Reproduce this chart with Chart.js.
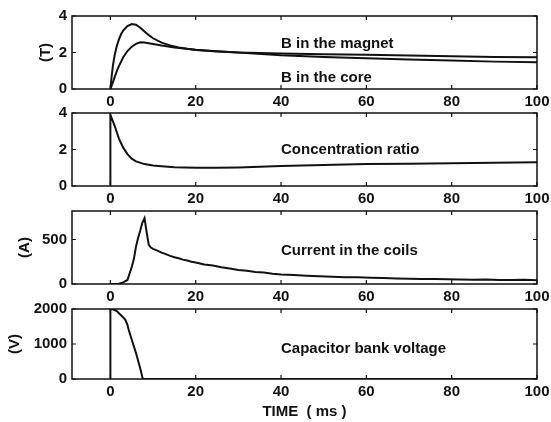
<!DOCTYPE html>
<html>
<head>
<meta charset="utf-8">
<script src="https://cdn.jsdelivr.net/npm/chart.js@4/dist/chart.umd.min.js"></script>
<style>
  html, body { margin: 0; padding: 0; background: #fff; }
  #wrap { position: relative; width: 551px; height: 422px; overflow: hidden; }
  #wrap canvas { position: absolute; left: 0; }
</style>
</head>
<body>
<div id="wrap">
  <canvas id="c1" width="551" height="110" style="top:0px"></canvas>
  <canvas id="c2" width="551" height="110" style="top:97px"></canvas>
  <canvas id="c3" width="551" height="110" style="top:195px"></canvas>
  <canvas id="c4" width="551" height="129" style="top:293px"></canvas>
</div>
<script>
// ---- data ----
const xTicks = [0, 20, 40, 60, 80, 100];

// panel 1: flux density (T)
const tMagnet = [0, 0.3, 0.6, 1, 1.5, 2, 2.5, 3, 4, 5, 6, 7, 8, 9, 10, 12, 14, 16, 18, 20, 25, 30, 35, 40, 50, 60, 70, 80, 90, 100];
const bMagnet = [0, 0.7, 1.3, 1.85, 2.35, 2.72, 3.0, 3.2, 3.45, 3.56, 3.52, 3.36, 3.15, 2.95, 2.78, 2.54, 2.39, 2.28, 2.2, 2.14, 2.06, 2.0, 1.97, 1.94, 1.9, 1.87, 1.83, 1.79, 1.76, 1.74];
const tCore = [0, 0.5, 1, 1.5, 2, 3, 4, 5, 6, 7, 8, 10, 12, 15, 20, 25, 30, 40, 50, 60, 70, 80, 90, 100];
const bCore = [0, 0.3, 0.65, 0.98, 1.25, 1.74, 2.08, 2.32, 2.47, 2.56, 2.55, 2.47, 2.38, 2.27, 2.15, 2.07, 2.0, 1.85, 1.76, 1.68, 1.62, 1.56, 1.5, 1.46];
const yTicksB = [0, 2, 4];

// panel 2: concentration ratio
const tRatio = [0, 0, 0.5, 1, 2, 3, 4, 5, 6, 8, 10, 12, 15, 20, 25, 30, 40, 50, 60, 70, 80, 90, 100];
const ratio = [0, 3.9, 3.6, 3.3, 2.6, 2.1, 1.75, 1.5, 1.35, 1.2, 1.12, 1.08, 1.03, 1.0, 1.0, 1.02, 1.1, 1.15, 1.2, 1.22, 1.25, 1.28, 1.3];
const yTicksRatio = [0, 2, 4];

// panel 3: coil current (A)
const tCurrent = [0, 1, 2, 3, 4, 5, 5.5, 6, 6.5, 7, 7.5, 8, 8.5, 9, 9.5, 10, 11, 12, 13, 14, 15, 16, 17, 18, 19, 20, 22, 24, 26, 28, 30, 32, 34, 36, 38, 40, 43, 46, 49, 52, 55, 58, 61, 64, 67, 70, 73, 76, 79, 82, 85, 88, 91, 94, 97, 100];
const current = [0, 0, 4, 18, 45, 190, 280, 420, 520, 600, 690, 740, 580, 440, 410, 395, 375, 352, 336, 316, 300, 290, 274, 263, 250, 242, 220, 207, 188, 173, 158, 148, 135, 129, 116, 107, 100, 92, 87, 81, 77, 75, 70, 66, 62, 60, 57, 55, 52, 50, 48, 50, 46, 44, 47, 43];
const yTicksCurrent = [0, 500];

// panel 4: capacitor bank voltage (V)
const tVolt = [0, 0, 0.5, 1, 1.5, 2, 2.5, 3, 3.5, 4, 4.3, 5, 6, 7, 7.6, 100];
const volt = [0, 2000, 1990, 1970, 1940, 1880, 1820, 1760, 1690, 1550, 1400, 1130, 740, 300, 0, 0];
const yTicksVolt = [0, 1000, 2000];

const notes1 = ['B in the magnet', 'B in the core'];
const notes2 = ['Concentration ratio'];
const notes3 = ['Current in the coils'];
const notes4 = ['Capacitor bank voltage'];

// ---- drawing ----
const FONT = "'Liberation Sans', Arial, Helvetica, sans-serif";
const INK = '#111';

const toPoints = (xs, ys) => xs.map((x, i) => ({ x: x, y: ys[i] }));

const boxPlugin = {
  id: 'box',
  afterDatasetsDraw(chart, args, opts) {
    const { ctx, chartArea: a, scales } = chart;
    ctx.save();
    ctx.strokeStyle = INK;
    ctx.lineWidth = 1.5;
    ctx.strokeRect(a.left, a.top, a.right - a.left, a.bottom - a.top);
    // inner tick marks, matlab style
    ctx.lineWidth = 1.2;
    ctx.beginPath();
    scales.x.ticks.forEach(t => {
      const px = scales.x.getPixelForValue(t.value);
      ctx.moveTo(px, a.bottom); ctx.lineTo(px, a.bottom - 4);
      ctx.moveTo(px, a.top); ctx.lineTo(px, a.top + 4);
    });
    scales.y.ticks.forEach(t => {
      const py = scales.y.getPixelForValue(t.value);
      ctx.moveTo(a.left, py); ctx.lineTo(a.left + 4, py);
      ctx.moveTo(a.right, py); ctx.lineTo(a.right - 4, py);
    });
    ctx.stroke();
    // text notes inside the plot
    ctx.fillStyle = INK;
    ctx.font = 'bold 15px ' + FONT;
    ctx.textAlign = 'left';
    ctx.textBaseline = 'middle';
    (opts.items || []).forEach(n => {
      ctx.fillText(n.text, scales.x.getPixelForValue(n.x), scales.y.getPixelForValue(n.y));
    });
    ctx.restore();
  }
};

function panel(id, series, yMin, yMax, yTicks, yTitle, yTitlePad, xAxisH, xTitle, notes) {
  new Chart(document.getElementById(id), {
    type: 'line',
    data: {
      datasets: series.map(s => ({
        data: s,
        borderColor: INK,
        borderWidth: 2,
        pointRadius: 0,
        tension: 0,
        fill: false
      }))
    },
    options: {
      responsive: false,
      animation: false,
      devicePixelRatio: 1,
      layout: { padding: { top: 16, right: 14, left: 0, bottom: 0 } },
      plugins: { legend: { display: false }, tooltip: { enabled: false }, box: { items: notes } },
      scales: {
        x: {
          type: 'linear', min: -9, max: 100,
          afterBuildTicks: sc => { sc.ticks = xTicks.map(v => ({ value: v })); },
          afterFit: sc => { sc.height = xAxisH; sc.paddingRight = 0; sc.paddingLeft = 0; },
          grid: { display: false, drawTicks: false },
          border: { display: false },
          ticks: { color: INK, padding: 4, maxRotation: 0, callback: v => String(v), font: { family: FONT, size: 15, weight: 'bold' } },
          title: { display: !!xTitle, text: xTitle, color: INK, padding: { top: 0, bottom: 1 }, font: { family: FONT, size: 15, weight: 'bold' } }
        },
        y: {
          min: yMin, max: yMax,
          afterBuildTicks: sc => { sc.ticks = yTicks.map(v => ({ value: v })); },
          afterFit: sc => { sc.width = 72; },
          grid: { display: false, drawTicks: false },
          border: { display: false },
          ticks: { color: INK, padding: 5, callback: v => String(v), font: { family: FONT, size: 15, weight: 'bold' } },
          title: { display: !!yTitle, text: yTitle, color: INK, padding: { top: yTitlePad, bottom: 0 }, font: { family: FONT, size: 15, weight: 'bold' } }
        }
      }
    },
    plugins: [boxPlugin]
  });
}

panel('c1', [toPoints(tMagnet, bMagnet), toPoints(tCore, bCore)], 0, 4, yTicksB, '(T)', 37, 21, '',
  [{ text: notes1[0], x: 40, y: 2.45 }, { text: notes1[1], x: 40, y: 0.6 }]);
panel('c2', [toPoints(tRatio, ratio)], 0, 4, yTicksRatio, '', 0, 21, '',
  [{ text: notes2[0], x: 40, y: 2.0 }]);
panel('c3', [toPoints(tCurrent, current)], 0, 820, yTicksCurrent, '(A)', 16, 21, '',
  [{ text: notes3[0], x: 40, y: 367 }]);
panel('c4', [toPoints(tVolt, volt)], 0, 2000, yTicksVolt, '(V)', 6, 43, 'TIME  ( ms )',
  [{ text: notes4[0], x: 40, y: 857 }]);
</script>
</body>
</html>
